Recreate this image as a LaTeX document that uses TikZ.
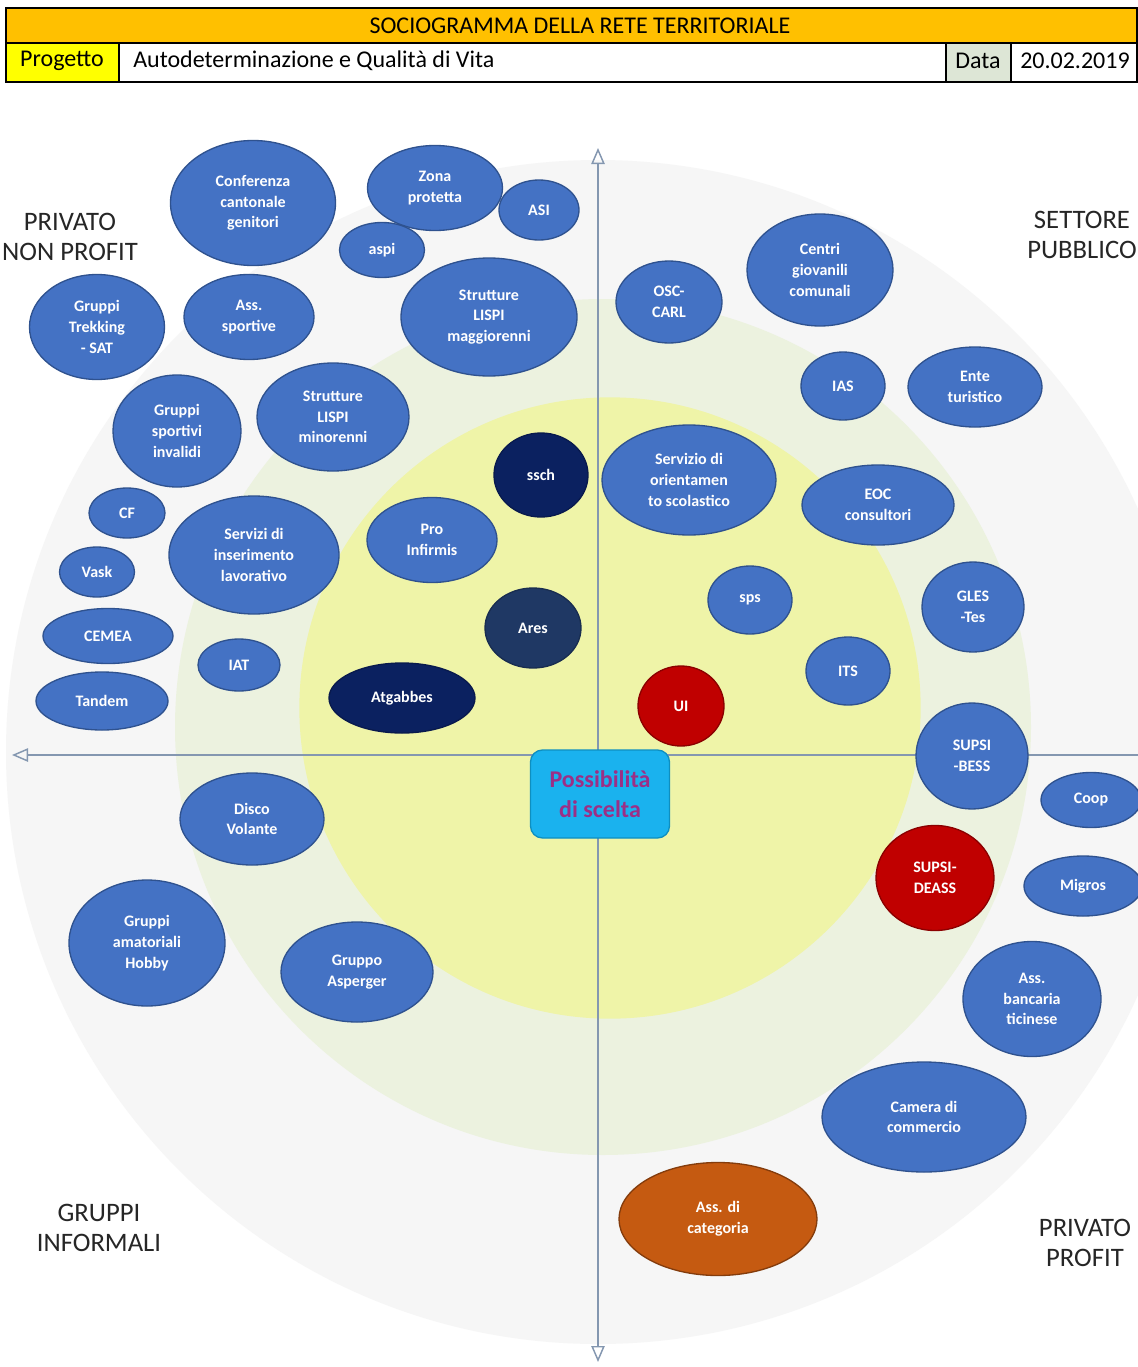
\documentclass[tikz,border=0pt]{standalone}
\usepackage{fontspec}
\setmainfont{Carlito}
\usetikzlibrary{shapes.geometric,arrows.meta}
\definecolor{bubblue}{HTML}{4472C4}
\definecolor{bubedge}{HTML}{2F528F}
\definecolor{navyfill}{HTML}{0B2160}
\definecolor{aresfill}{HTML}{1F3864}
\definecolor{redfill}{HTML}{C00000}
\definecolor{rededge}{HTML}{8B0000}
\definecolor{orangefill}{HTML}{C55A11}
\definecolor{orangeedge}{HTML}{843C0C}
\definecolor{outerc}{HTML}{F6F6F6}
\definecolor{middlec}{HTML}{ECF2DF}
\definecolor{innerc}{HTML}{EFF4A8}
\definecolor{axisc}{HTML}{8497B0}
\definecolor{headorange}{HTML}{FFC000}
\definecolor{headyellow}{HTML}{FFFF00}
\definecolor{headgreen}{HTML}{DDE6D6}
\definecolor{boxcyan}{HTML}{1AB2EE}
\definecolor{boxedge}{HTML}{0E8FC0}
\definecolor{boxtext}{HTML}{9C2F86}
\begin{document}
\begin{tikzpicture}[x=0.75pt,y=-0.75pt,
  bub/.style={ellipse, fill=bubblue, draw=bubedge, line width=1pt, inner sep=0pt,
    text=white, align=center, font=\bfseries\fontsize{12}{15.5}\selectfont},
  sz/.style 2 args={minimum width=#1*0.75pt, minimum height=#2*0.75pt},
  navybub/.style={fill=navyfill, draw=navyfill!80!black},
  aresbub/.style={fill=aresfill, draw=aresfill!80!black},
  redbub/.style={fill=redfill, draw=rededge},
  orangebub/.style={fill=orangefill, draw=orangeedge},
  quad/.style={align=center, font=\fontsize{20}{23}\selectfont, text=black!85},
  cell/.style={draw=black, line width=0.9pt},
  celltext/.style={font=\fontsize{18}{20}\selectfont, inner sep=0pt},
  axis/.style={draw=axisc, line width=1.1pt}
]
\useasboundingbox (0,0) rectangle (1138,1367);
\fill[white] (0,0) rectangle (1138,1367);

% background rings
\fill[outerc] (598,752) circle [radius=444pt];
\fill[middlec] (603,727) circle [radius=321pt];
\fill[innerc] (610,708) circle [radius=233pt];

% header table
\filldraw[cell, fill=headorange] (6,8) rectangle (1137,43);
\filldraw[cell, fill=headyellow] (6,43) rectangle (119,82);
\filldraw[cell, fill=white] (119,43) rectangle (946,82);
\filldraw[cell, fill=headgreen] (946,43) rectangle (1011,82);
\filldraw[cell, fill=white] (1011,43) rectangle (1137,82);
\node[celltext] (title) at (580,26) {SOCIOGRAMMA DELLA RETE TERRITORIALE};
\node[celltext] (proj) at (62,61) {Progetto};
\node[celltext, anchor=west] (projname) at (133,61) {Autodeterminazione e Qualità di Vita};
\node[celltext] (datalab) at (978,61) {Data};
\node[celltext, anchor=west] (dataval) at (1020,61) {20.02.2019};

% axes
\coordinate (vtop) at (598,148);
\coordinate (vbot) at (598,1362);
\coordinate (hl) at (12,755);
\coordinate (hr) at (1138,755);
\draw[axis, {Triangle[open, length=12pt, width=10pt]}-{Triangle[open, length=12pt, width=10pt]}] (vbot) -- (vtop);
\draw[axis, -{Triangle[open, length=12pt, width=10pt]}] (hr) -- (hl);

% quadrant labels
\node[quad] (qtl) at (70,237) {PRIVATO\\NON PROFIT};
\node[quad] (qtr) at (1082,235) {SETTORE\\PUBBLICO};
\node[quad] (qbl) at (99,1228) {GRUPPI\\INFORMALI};
\node[quad] (qbr) at (1085,1243) {PRIVATO\\PROFIT};

% centre box
\node[rounded corners=9pt, fill=boxcyan, draw=boxedge, line width=1pt,
  minimum width=139*0.75pt, minimum height=88*0.75pt, align=center,
  text=boxtext, font=\bfseries\fontsize{18}{23}\selectfont] (centre) at (600,794) {Possibilità\\di scelta};

% top-left quadrant
\node[bub, sz={165}{125}] (conf) at (253,203) {Conferenza\\cantonale\\genitori};
\node[bub, sz={135}{85}] (zona) at (435,188) {Zona\\protetta};
\node[bub, sz={80}{60}] (asi) at (539,210) {ASI};
\node[bub, sz={85}{55}] (aspi) at (382,250) {aspi};
\node[bub, sz={176}{118}] (lispimag) at (489,317) {Strutture\\LISPI\\maggiorenni};
\node[bub, sz={135}{105}] (trek) at (97,327) {Gruppi\\Trekking\\- SAT};
\node[bub, sz={130}{85}] (asssport) at (249,317) {Ass.\\sportive};
\node[bub, sz={152}{108}] (lispimin) at (333,417) {Strutture\\LISPI\\minorenni};
\node[bub, sz={128}{112}] (invalidi) at (177,431) {Gruppi\\sportivi\\invalidi};
\node[bub, navybub, sz={94}{84}] (ssch) at (541,475) {ssch};
\node[bub, sz={76}{50}] (cf) at (127,513) {CF};
\node[bub, sz={170}{118}] (inser) at (254,555) {Servizi di\\inserimento\\lavorativo};
\node[bub, sz={130}{85}] (proinf) at (432,540) {Pro\\Infirmis};
\node[bub, sz={75}{50}] (vask) at (97,572) {Vask};
\node[bub, sz={130}{55}] (cemea) at (108,636) {CEMEA};
\node[bub, aresbub, sz={96}{80}] (ares) at (533,628) {Ares};
\node[bub, sz={82}{52}] (iat) at (239,665) {IAT};
\node[bub, sz={132}{58}] (tandem) at (102,701) {Tandem};
\node[bub, navybub, sz={146}{70}] (atgabbes) at (402,698) {Atgabbes};

% top-right quadrant
\node[bub, sz={106}{82}] (osc) at (669,302) {OSC-\\CARL};
\node[bub, sz={146}{112}] (centri) at (820,270) {Centri\\giovanili\\comunali};
\node[bub, sz={84}{68}] (ias) at (843,386) {IAS};
\node[bub, sz={134}{80}] (ente) at (975,387) {Ente\\turistico};
\node[bub, sz={174}{110}] (orient) at (689,480) {Servizio di\\orientamen\\to scolastico};
\node[bub, sz={152}{80}] (eoc) at (878,505) {EOC\\consultori};
\node[bub, sz={84}{68}] (sps) at (750,600) {sps};
\node[bub, sz={102}{90}] (gles) at (973,607) {GLES\\-Tes};
\node[bub, sz={84}{68}] (its) at (848,671) {ITS};
\node[bub, redbub, sz={86}{80}] (ui) at (681,706) {UI};
\node[bub, sz={112}{106}] (bess) at (972,756) {SUPSI\\-BESS};

% bottom-right quadrant
\node[bub, sz={100}{55}] (coop) at (1091,800) {Coop};
\node[bub, redbub, sz={118}{105}] (deass) at (935,878) {SUPSI-\\DEASS};
\node[bub, sz={118}{60}] (migros) at (1083,886) {Migros};
\node[bub, sz={138}{115}] (banc) at (1032,999) {Ass.\\bancaria\\ticinese};
\node[bub, sz={204}{110}] (camera) at (924,1117) {Camera di\\commercio};
\node[bub, orangebub, sz={198}{113}] (categ) at (718,1219) {Ass. di\\categoria};

% bottom-left quadrant
\node[bub, sz={144}{92}] (disco) at (252,819) {Disco\\Volante};
\node[bub, sz={156}{126}] (hobby) at (147,943) {Gruppi\\amatoriali\\Hobby};
\node[bub, sz={152}{100}] (asperger) at (357,972) {Gruppo\\Asperger};
\end{tikzpicture}
\end{document}
